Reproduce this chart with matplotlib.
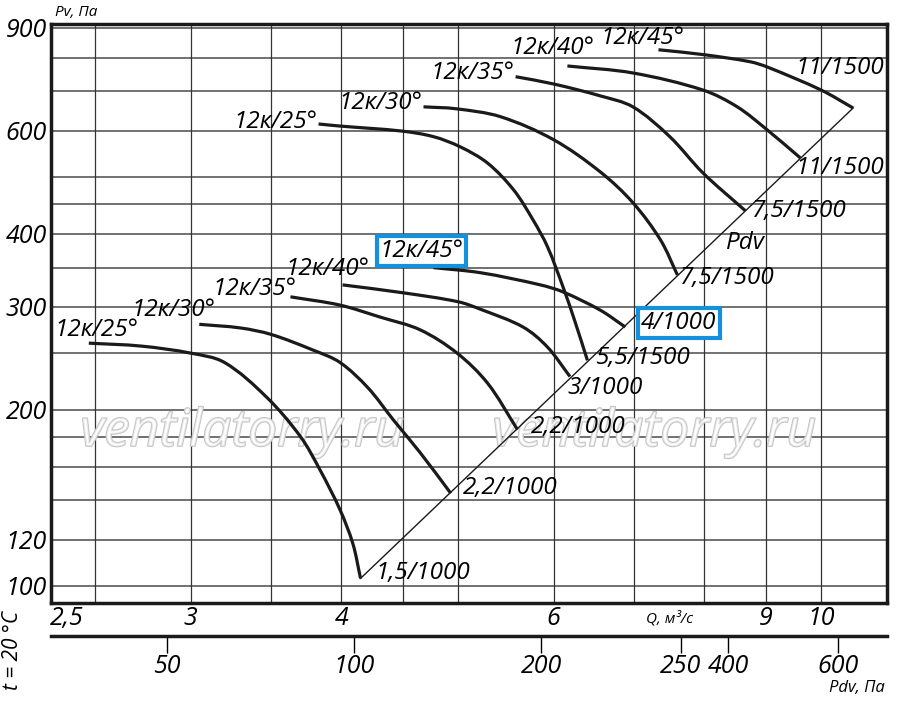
import numpy as np
import matplotlib.pyplot as plt
import matplotlib.patheffects as pe
from matplotlib.path import Path
from matplotlib.patches import PathPatch
from matplotlib.transforms import ScaledTranslation

# fan curves, Q in m3/s, Pv in Pa
q_lo_25 = [2.47, 2.73, 3.00, 3.20, 3.47, 3.70, 3.84, 3.99, 4.09, 4.15]
pv_lo_25 = [260, 257, 250, 241, 210, 180, 158, 135, 118, 103]
q_lo_30 = [3.05, 3.30, 3.50, 3.79, 3.99, 4.21, 4.42, 4.65, 4.93]
pv_lo_30 = [280, 276, 269, 253, 241, 218, 192, 169, 144]
q_lo_35 = [3.63, 3.99, 4.31, 4.65, 4.99, 5.29, 5.60]
pv_lo_35 = [312, 302, 288, 274, 250, 222, 185]
q_lo_40 = [4.01, 4.50, 5.00, 5.22, 5.66, 5.93, 6.19]
pv_lo_40 = [327, 317, 306, 297, 277, 256, 228]
q_lo_45 = [4.77, 5.22, 5.85, 6.11, 6.56, 6.88]
pv_lo_45 = [350, 343, 327, 318, 296, 277]

q_hi_25 = [3.83, 3.99, 4.49, 4.77, 5.02, 5.29, 5.56, 5.77, 5.93, 6.11, 6.25, 6.40]
pv_hi_25 = [616, 611, 599, 586, 563, 528, 475, 422, 380, 324, 283, 243]
q_hi_30 = [4.68, 4.98, 5.42, 6.00, 6.56, 6.98, 7.36, 7.60]
pv_hi_30 = [659, 654, 634, 579, 510, 452, 390, 340]
q_hi_35 = [5.58, 6.00, 6.56, 6.98, 7.49, 7.98, 8.65]
pv_hi_35 = [742, 721, 688, 659, 586, 508, 438]
q_hi_40 = [6.16, 6.98, 7.98, 8.52, 9.02, 9.61]
pv_hi_40 = [774, 753, 704, 659, 602, 539]
q_hi_45 = [7.33, 8.00, 8.73, 9.02, 10.0, 10.63]
pv_hi_45 = [825, 809, 787, 771, 704, 656]

names = ['12к/25°', '12к/30°', '12к/35°', '12к/40°', '12к/45°',
         '12к/25°', '12к/30°', '12к/35°', '12к/40°', '12к/45°']
motors = ['1,5/1000', '2,2/1000', '2,2/1000', '3/1000', '4/1000',
          '5,5/1500', '7,5/1500', '7,5/1500', '11/1500', '11/1500']

# dynamic pressure line
pdv_q = [4.15, 10.63]
pdv_pv = [103, 656]

q_grid = [2.5, 3, 3.5, 4, 4.5, 5, 6, 7, 8, 9, 10]
q_ticks = [2.5, 3, 4, 6, 9, 10]
q_tick_labels = ['2,5', '3', '4', '6', '9', '10']
pv_grid = [100, 120, 140, 160, 180, 200, 250, 300, 350, 400, 450, 500, 600, 700, 800, 900]
pv_ticks = [100, 120, 200, 300, 400, 600, 900]

pdv_ticks = [50, 100, 200, 335, 400, 600]
pdv_tick_labels = ['50', '100', '200', '250', '400', '600']

plt.rcParams['font.family'] = ['Open Sans', 'DejaVu Sans']
plt.rcParams['font.style'] = 'italic'

curves = [(q_lo_25, pv_lo_25), (q_lo_30, pv_lo_30), (q_lo_35, pv_lo_35),
          (q_lo_40, pv_lo_40), (q_lo_45, pv_lo_45),
          (q_hi_25, pv_hi_25), (q_hi_30, pv_hi_30), (q_hi_35, pv_hi_35),
          (q_hi_40, pv_hi_40), (q_hi_45, pv_hi_45)]

# label offsets in pixels (name near start, motor near end)
name_off = [(8, 13), (-26, 14), (-36, 8), (-15, 16), (-12, 17),
            (-43, 2), (-43, 4), (-43, 4), (-15, 18), (-16, 12)]
motor_off = [(15, 5), (12, 5), (13, 3), (-2, -11), (16, 4),
             (8, 2), (3, -3), (7, 0), (-5, -10), (-58, 40)]
boxed = {4}
FS = 17.5


def smooth_path(q, pv):
    # smooth curve through the read points (chord-length catmull-rom in log space)
    sx, sy = 1207.0, 585.0  # roughly pixels per decade, so distances are even
    p = np.column_stack([np.log10(q) * sx, np.log10(pv) * sy])
    d = np.hypot(*np.diff(p, axis=0).T)
    t = np.concatenate([[0], np.cumsum(d)])
    m = np.zeros_like(p)
    m[1:-1] = (p[2:] - p[:-2]) / (t[2:] - t[:-2])[:, None]
    m[0] = (p[1] - p[0]) / d[0]
    m[-1] = (p[-1] - p[-2]) / d[-1]
    verts = [p[0]]
    codes = [Path.MOVETO]
    for i in range(len(p) - 1):
        verts += [p[i] + m[i] * d[i] / 3, p[i + 1] - m[i + 1] * d[i] / 3, p[i + 1]]
        codes += [Path.CURVE4] * 3
    v = np.array(verts) / [sx, sy]
    return Path(10 ** v, codes)


fig = plt.figure(figsize=(9, 7.07), dpi=100)
ax = fig.add_axes([51 / 900, 1 - 603 / 707, 836 / 900, 579 / 707])
ax.set_xscale('log')
ax.set_yscale('log')
ax.set_xlim(2.298, 11.34)
ax.set_ylim(93.5, 913)

for v in pv_grid:
    ax.axhline(v, color='#4a4a4a', lw=1.1, zorder=1)
for v in q_grid:
    ax.axvline(v, color='#333333', lw=0.9, zorder=1)

ax.set_xticks(q_ticks)
ax.set_xticklabels(q_tick_labels)
ax.xaxis.set_minor_locator(plt.NullLocator())
ax.yaxis.set_minor_locator(plt.NullLocator())
ax.set_yticks(pv_ticks)
ax.set_yticklabels([str(v) for v in pv_ticks])
ax.tick_params(length=0, labelsize=18, pad=3)
ax.tick_params(axis='x', pad=2)
lab0 = ax.get_xticklabels()[0]
lab0.set_transform(lab0.get_transform() + ScaledTranslation(-0.28, 0, fig.dpi_scale_trans))
for s in ax.spines.values():
    s.set_linewidth(2.5)
    s.set_color('#1a1a1a')

# watermarks
for wx in (3.31, 7.27):
    ax.text(wx, 183, 'ventilatorry.ru', fontsize=37, color='white', alpha=0.6,
            ha='center', va='center', zorder=2,
            path_effects=[pe.Stroke(linewidth=1.4, foreground='#c4c4c4', alpha=1), pe.Normal()])

ax.plot(pdv_q, pdv_pv, color='#1a1a1a', lw=1.0, zorder=3)
ax.text(8.66, 386, 'Pdv', fontsize=FS, ha='center', va='center', zorder=5)

for i, (q, pv) in enumerate(curves):
    ax.add_patch(PathPatch(smooth_path(q, pv), fill=False, ec='#1a1a1a', lw=2.3,
                           zorder=4, capstyle='butt'))
    bb = None
    if i in boxed:
        bb = dict(boxstyle='square,pad=0.12', fc='white', ec='#1590dc', lw=3)
    ax.annotate(names[i], (q[0], pv[0]), xytext=name_off[i], textcoords='offset pixels',
                fontsize=FS, ha='center', va='center', zorder=6, bbox=bb)
    ax.annotate(motors[i], (q[-1], pv[-1]), xytext=motor_off[i], textcoords='offset pixels',
                fontsize=FS, ha='left', va='center', zorder=6, bbox=bb)

# lower Pdv scale
ax2 = fig.add_axes([51 / 900, 1 - 636 / 707, 836 / 900, 0.001])
ax2.set_xscale('log')
ax2.set_xlim(32.57, 719.3)
ax2.set_facecolor('none')
for k in ('top', 'left', 'right'):
    ax2.spines[k].set_visible(False)
ax2.spines['bottom'].set_linewidth(2.5)
ax2.spines['bottom'].set_color('#1a1a1a')
ax2.set_yticks([])
ax2.set_xticks(pdv_ticks)
ax2.set_xticklabels(pdv_tick_labels)
ax2.xaxis.set_minor_locator(plt.NullLocator())
ax2.tick_params(axis='x', direction='out', length=12, width=1, labelsize=18, pad=1)

fig.text(55 / 900, 1 - 12 / 707, 'Pv, Па', fontsize=11, ha='left', va='center')
fig.text(670 / 900, 1 - 619 / 707, 'Q, м³/с', fontsize=11, ha='center', va='center')
fig.text(885 / 900, 1 - 688 / 707, 'Pdv, Па', fontsize=12, ha='right', va='center')
fig.text(12 / 900, 1 - 650 / 707, 't = 20 °C', fontsize=15, rotation=90, ha='center', va='center')

fig.savefig('out.png', dpi=100, facecolor='white')
